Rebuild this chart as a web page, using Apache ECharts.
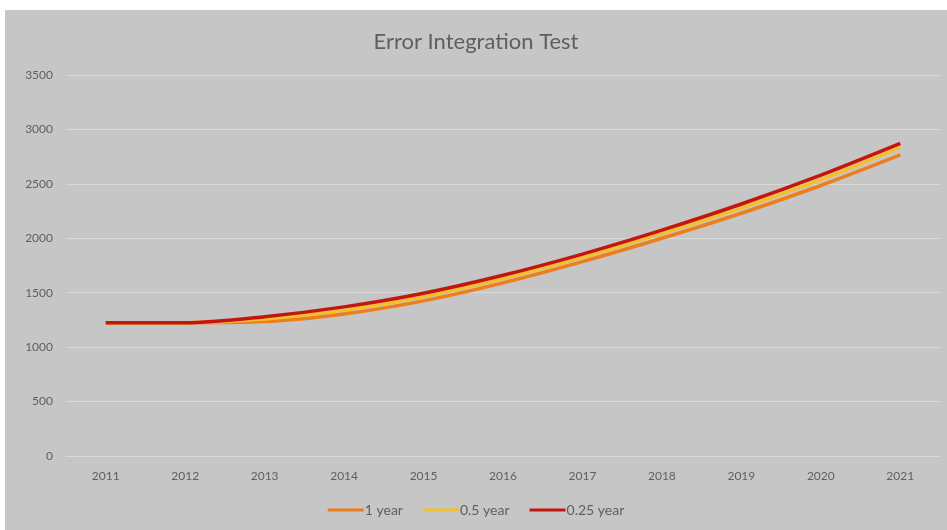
<!DOCTYPE html>
<html>
<head>
<meta charset="utf-8">
<title>Error Integration Test</title>
<script src="https://cdn.jsdelivr.net/npm/echarts@6/dist/echarts.min.js"></script>
<style>
	html, body {
		margin: 0;
		padding: 0;
		background: #ffffff;
	}

	#chart {
		position: absolute;
		left: 5px;
		top: 10px;
		width: 942px;
		height: 520px;
	}
</style>
</head>
<body>
<div id="chart"></div>
<script>
	// years on the x axis
	const years = ['2011', '2012', '2013', '2014', '2015', '2016', '2017', '2018', '2019', '2020', '2021'];
	// integration step results
	const oneYear = [1225, 1225, 1235, 1305, 1425, 1590, 1785, 2000, 2230, 2485, 2766];
	const halfYear = [1225, 1225, 1258, 1340, 1465, 1630, 1825, 2045, 2280, 2540, 2836];
	const quarterYear = [1225, 1225, 1280, 1370, 1495, 1660, 1855, 2075, 2315, 2580, 2872];
	const seriesNames = ['1 year', '0.5 year', '0.25 year'];
	const colors = ['#ee7d1b', '#f2c02e', '#c4160f'];

	let myChart = echarts.init(document.getElementById('chart'));
	let textColor = '#5f5f5f';
	let font = 'Lato';

	let option = {
		backgroundColor: '#c6c6c6',
		color: colors,
		animation: false,
		title: {
			text: 'Error Integration Test',
			left: 'center',
			top: 16,
			textStyle: {
				fontFamily: font,
				fontSize: 22,
				fontWeight: 'normal',
				color: textColor
			}
		},
		legend: {
			data: seriesNames,
			bottom: 8,
			left: 'center',
			itemWidth: 36,
			itemHeight: 3,
			itemGap: 20,
			icon: 'rect',
			textStyle: {
				fontFamily: font,
				fontSize: 14,
				color: textColor,
				padding: [0, 0, 0, -4]
			}
		},
		grid: {
			left: 61,
			right: 7,
			top: 65,
			bottom: 74,
			containLabel: false
		},
		xAxis: {
			type: 'category',
			data: years,
			boundaryGap: true,
			axisLine: {
				lineStyle: {
					color: '#d9d9d9',
					width: 1
				}
			},
			axisTick: {
				show: false
			},
			axisLabel: {
				margin: 14,
				fontFamily: font,
				fontSize: 12,
				color: textColor
			}
		},
		yAxis: {
			type: 'value',
			min: 0,
			max: 3500,
			interval: 500,
			axisLine: {
				show: false
			},
			axisTick: {
				show: false
			},
			axisLabel: {
				margin: 13,
				fontFamily: font,
				fontSize: 12,
				color: textColor,
				formatter: function (v) {
					return String(v);
				}
			},
			splitLine: {
				lineStyle: {
					color: '#d9d9d9',
					width: 1
				}
			}
		},
		series: [{
				name: seriesNames[0],
				type: 'line',
				data: oneYear,
				smooth: 0.3,
				symbol: 'none',
				lineStyle: {
					width: 3.5,
					color: colors[0]
				}
			},
			{
				name: seriesNames[1],
				type: 'line',
				data: halfYear,
				smooth: 0.3,
				symbol: 'none',
				lineStyle: {
					width: 3.5,
					color: colors[1]
				}
			},
			{
				name: seriesNames[2],
				type: 'line',
				data: quarterYear,
				smooth: 0.3,
				symbol: 'none',
				lineStyle: {
					width: 3.5,
					color: colors[2]
				}
			}
		]
	};

	myChart.setOption(option);
</script>
</body>
</html>
